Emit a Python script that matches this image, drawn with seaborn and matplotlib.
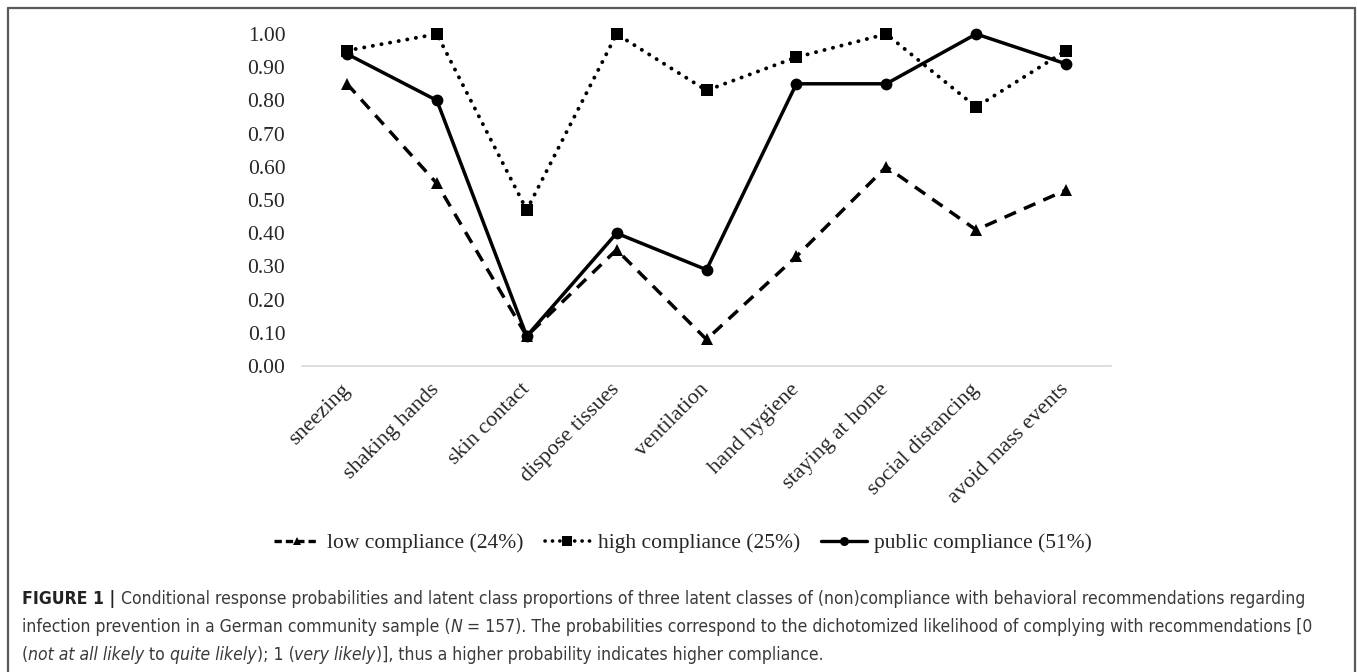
import matplotlib
matplotlib.use("Agg")
import matplotlib.pyplot as plt
from matplotlib import font_manager
from matplotlib.lines import Line2D
import seaborn as sns
import pandas as pd

# ---------------- data ----------------
categories = ["sneezing", "shaking hands", "skin contact", "dispose tissues",
              "ventilation", "hand hygiene", "staying at home",
              "social distancing", "avoid mass events"]
low_compliance = [0.85, 0.55, 0.09, 0.35, 0.08, 0.33, 0.60, 0.41, 0.53]
high_compliance = [0.95, 1.00, 0.47, 1.00, 0.83, 0.93, 1.00, 0.78, 0.95]
public_compliance = [0.94, 0.80, 0.09, 0.40, 0.29, 0.85, 0.85, 1.00, 0.91]
series_labels = ["low compliance (24%)", "high compliance (25%)",
                 "public compliance (51%)"]
y_ticks = [0.0, 0.1, 0.2, 0.3, 0.4, 0.5, 0.6, 0.7, 0.8, 0.9, 1.0]

# ---------------- style ----------------
sns.set_theme(style="white")
serif = "Liberation Serif"
ttf = font_manager.fontManager.ttflist
cap_font = "Liberation Sans"
cap_stretch = "normal"
if any(f.name == "Liberation Sans Narrow" for f in ttf):
    cap_font = "Liberation Sans Narrow"
elif any(f.name == "DejaVu Sans" and str(f.stretch) in ("condensed", "semi-condensed") for f in ttf):
    cap_font = "DejaVu Sans"
    cap_stretch = "condensed"
plt.rcParams["font.family"] = [serif, "DejaVu Serif"]

W, H = 1357, 672
fig = plt.figure(figsize=(W / 100, H / 100), dpi=100)
ax = fig.add_axes([302 / W, 1 - 366 / H, (1111 - 302) / W, (366 - 34) / H])

df_low = pd.DataFrame({"item": categories, "p": low_compliance})
df_high = pd.DataFrame({"item": categories, "p": high_compliance})
df_pub = pd.DataFrame({"item": categories, "p": public_compliance})

sns.lineplot(data=df_low, x="item", y="p", sort=False, ax=ax, color="black",
             lw=2.5, marker="^", markersize=8.5, markeredgewidth=0,
             dashes=False, clip_on=False)
ax.lines[-1].set_dashes((3.6, 2.5))
sns.lineplot(data=df_high, x="item", y="p", sort=False, ax=ax, color="black",
             lw=2.8, marker="s", markersize=8, markeredgewidth=0,
             dashes=False, clip_on=False)
ax.lines[-1].set_dashes((0.05, 2.2))
ax.lines[-1].set_dash_capstyle("round")
sns.lineplot(data=df_pub, x="item", y="p", sort=False, ax=ax, color="black",
             lw=2.5, marker="o", markersize=8.5, markeredgewidth=0,
             clip_on=False)

ax.set_xlim(-0.5, len(categories) - 0.5)
ax.set_ylim(0, 1.0)
ax.set_yticks(y_ticks)
ax.set_yticklabels([f"{v:.2f}" for v in y_ticks], fontsize=15.5, family=serif)
ax.set_xticks(range(len(categories)))
ax.set_xticklabels(categories, rotation=45, ha="right", va="center",
                   rotation_mode="anchor", fontsize=16, family=serif)
ax.tick_params(axis="y", length=0, pad=12)
ax.tick_params(axis="x", length=0, pad=15)
ax.set_xlabel("")
ax.set_ylabel("")
for s in ["top", "right", "left"]:
    ax.spines[s].set_visible(False)
ax.spines["bottom"].set_color("#d9d9d9")
ax.spines["bottom"].set_linewidth(1.2)
ax.grid(False)

# legend
h_low = Line2D([], [], color="black", lw=2.4, marker="^", markersize=6,
               markeredgewidth=0, dashes=(2.2, 1.2))
h_high = Line2D([], [], color="black", lw=2.6, marker="s", markersize=7,
                markeredgewidth=0, dashes=(0.05, 2.0), dash_capstyle="round")
h_pub = Line2D([], [], color="black", lw=2.4, marker="o", markersize=6.5,
               markeredgewidth=0)
ax.legend([h_low, h_high, h_pub], series_labels, ncol=3, frameon=False,
          loc="center", bbox_to_anchor=(683 / W, 1 - 543 / H),
          bbox_transform=fig.transFigure, prop={"family": serif, "size": 15.5},
          handlelength=2.1, handletextpad=0.35, columnspacing=1.0)

# outer frame (left, top, right)
frame_kw = dict(color="#5a5a5a", lw=1.6, transform=fig.transFigure)
fig.add_artist(Line2D([8 / W, 8 / W], [0, 1 - 8 / H], **frame_kw))
fig.add_artist(Line2D([8 / W, 1355 / W], [1 - 8 / H, 1 - 8 / H], **frame_kw))
fig.add_artist(Line2D([1355 / W, 1355 / W], [0, 1 - 8 / H], **frame_kw))

# caption
renderer = fig.canvas.get_renderer()
TC = "#3a3a3a"
line1 = [("FIGURE 1 | ", "bold", "normal", "#222222"),
         ("Conditional response probabilities and latent class proportions of three latent classes of (non)compliance with behavioral recommendations regarding",
          "normal", "normal", TC)]
line2 = [("infection prevention in a German community sample (", "normal", "normal", TC),
         ("N", "normal", "italic", TC),
         (" = 157). The probabilities correspond to the dichotomized likelihood of complying with recommendations [0",
          "normal", "normal", TC)]
line3 = [("(", "normal", "normal", TC),
         ("not at all likely", "normal", "italic", TC),
         (" to ", "normal", "normal", TC),
         ("quite likely", "normal", "italic", TC),
         ("); 1 (", "normal", "normal", TC),
         ("very likely", "normal", "italic", TC),
         (")], thus a higher probability indicates higher compliance.", "normal", "normal", TC)]


def draw_runs(x0, ypx, runs, size, keep=True):
    x = x0
    made = []
    for text, weight, style, color in runs:
        t = fig.text(x / W, 1 - ypx / H, text, fontsize=size,
                     family=[cap_font, "DejaVu Sans"], fontstretch=cap_stretch,
                     fontweight=weight, fontstyle=style, color=color,
                     va="center", ha="left")
        bb = t.get_window_extent(renderer)
        x = bb.x1
        made.append(t)
    if not keep:
        for t in made:
            t.remove()
    return x - x0


probe = draw_runs(22, 599, line1, 14.0, keep=False)
cap_size = 14.0 * (1313 - 22) / probe
draw_runs(22, 599, line1, cap_size)
draw_runs(22, 627, line2, cap_size)
draw_runs(22, 655, line3, cap_size)

fig.savefig("out.png", dpi=100)
